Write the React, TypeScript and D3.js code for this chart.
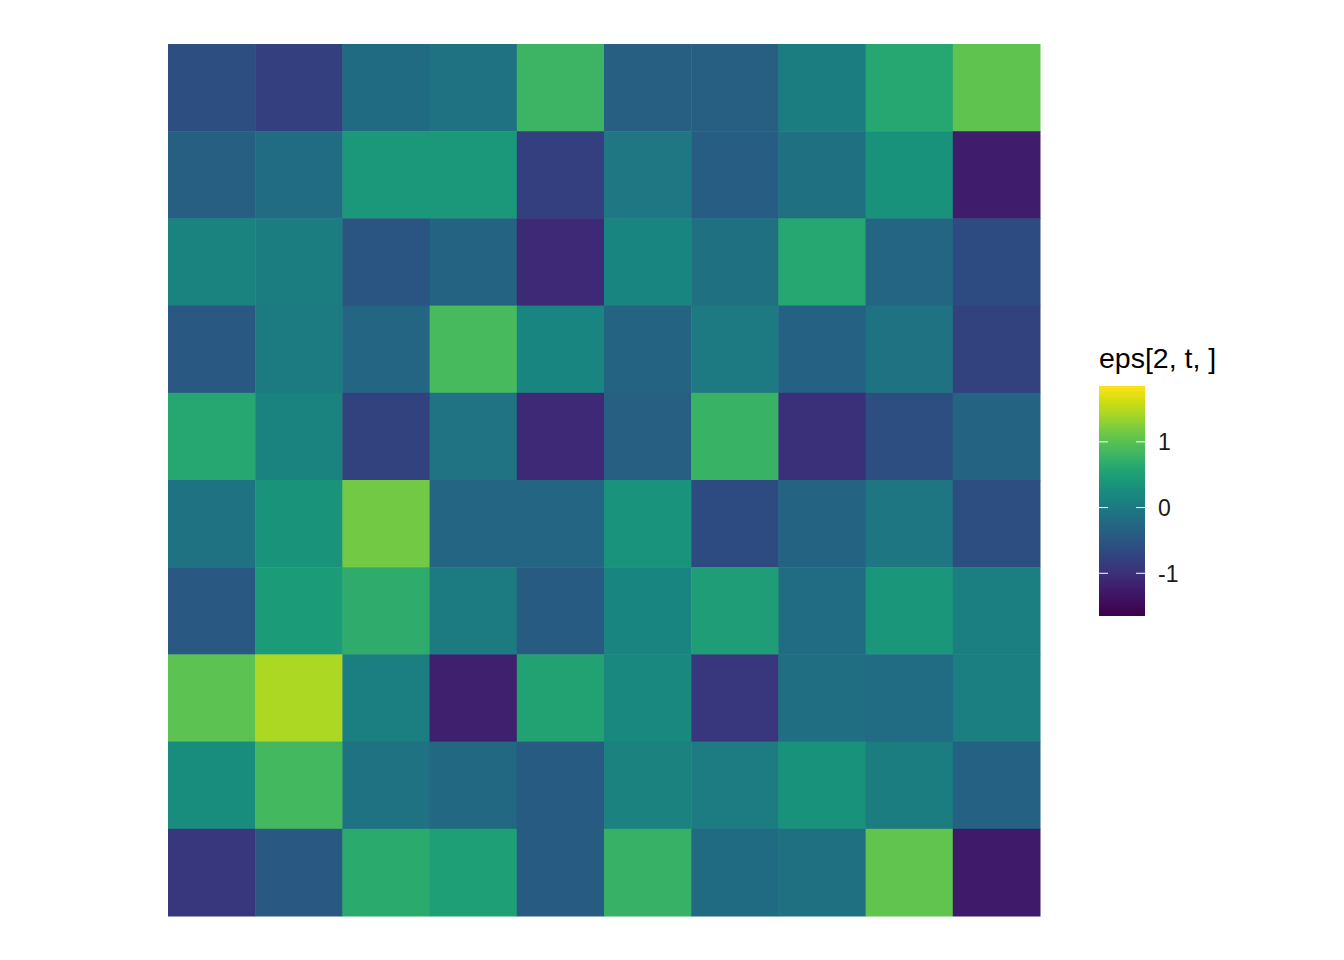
import React, { useEffect, useRef } from 'react';
import * as d3 from 'd3';

// rows listed top to bottom, columns left to right
const rows = ['r1', 'r2', 'r3', 'r4', 'r5', 'r6', 'r7', 'r8', 'r9', 'r10'];
const cols = ['c1', 'c2', 'c3', 'c4', 'c5', 'c6', 'c7', 'c8', 'c9', 'c10'];

const row1 = [-0.6, -0.79, -0.2, -0.11, 0.8, -0.37, -0.37, 0.05, 0.6, 1.04];
const row2 = [-0.37, -0.18, 0.42, 0.42, -0.79, -0.03, -0.4, -0.13, 0.33, -1.25];
const row3 = [0.13, 0.05, -0.52, -0.3, -1.08, 0.16, -0.13, 0.6, -0.27, -0.65];
const row4 = [-0.45, 0.03, -0.27, 0.88, 0.16, -0.29, 0.0, -0.33, -0.11, -0.76];
const row5 = [0.6, 0.12, -0.76, -0.09, -1.08, -0.37, 0.78, -1.0, -0.6, -0.3];
const row6 = [-0.11, 0.37, 1.15, -0.27, -0.27, 0.35, -0.65, -0.3, -0.05, -0.6];
const row7 = [-0.47, 0.45, 0.7, 0.03, -0.42, 0.16, 0.48, -0.18, 0.39, 0.06];
const row8 = [1.02, 1.45, 0.08, -1.2, 0.56, 0.2, -0.92, -0.15, -0.18, 0.08];
const row9 = [0.27, 0.86, -0.11, -0.24, -0.42, 0.1, 0.04, 0.33, 0.05, -0.33];
const row10 = [-0.92, -0.45, 0.65, 0.5, -0.42, 0.76, -0.2, -0.13, 1.05, -1.28];

const values = [row1, row2, row3, row4, row5, row6, row7, row8, row9, row10];

const fillLimits = [-1.65, 1.85];
const legendTicks = [-1, 0, 1];
const legendTitle = 'eps[2, t, ]';

// viridis, a little darker in the mid tones like the original render
const palette = (t: number) => {
  const c = d3.rgb(d3.interpolateViridis(t));
  const f = (v: number, g: number) => 255 * Math.pow(v / 255, g);
  return d3.rgb(f(c.r, 1.1), f(c.g, 1.2), f(c.b, 1.15)).formatHex();
};

const App = () => {
  const svgRef = useRef<SVGSVGElement>(null);

  useEffect(() => {
    const width = 1344;
    const height = 960;
    const svg = d3.select(svgRef.current)
      .attr('width', width)
      .attr('height', height);
    svg.selectAll('*').remove();

    const x = d3.scaleBand().domain(cols).range([168, 1040]);
    const y = d3.scaleBand().domain(rows).range([44, 916]);
    const color = d3.scaleSequential(palette).domain(fillLimits);

    const cells = values.flatMap((r, i) => r.map((v, j) => ({ row: rows[i], col: cols[j], v })));

    svg.append('g')
      .selectAll('rect')
      .data(cells)
      .enter()
      .append('rect')
      .attr('x', d => x(d.col)!)
      .attr('y', d => y(d.row)!)
      .attr('width', x.bandwidth() + 0.5)
      .attr('height', y.bandwidth() + 0.5)
      .attr('fill', d => color(d.v));

    // legend colorbar
    const barX = 1099;
    const barW = 46;
    const ly = d3.scaleLinear().domain(fillLimits).range([616, 386]);

    const defs = svg.append('defs');
    const grad = defs.append('linearGradient')
      .attr('id', 'bar-grad')
      .attr('x1', 0).attr('y1', 1).attr('x2', 0).attr('y2', 0);
    d3.range(0, 1.0001, 0.02).forEach(t => {
      grad.append('stop')
        .attr('offset', t)
        .attr('stop-color', palette(t));
    });

    svg.append('rect')
      .attr('x', barX)
      .attr('y', ly(fillLimits[1]))
      .attr('width', barW)
      .attr('height', ly(fillLimits[0]) - ly(fillLimits[1]))
      .attr('fill', 'url(#bar-grad)');

    const tickG = svg.append('g');
    legendTicks.forEach(t => {
      tickG.append('line')
        .attr('x1', barX).attr('x2', barX + 9)
        .attr('y1', ly(t)).attr('y2', ly(t))
        .attr('stroke', 'white').attr('stroke-width', 1);
      tickG.append('line')
        .attr('x1', barX + barW - 9).attr('x2', barX + barW)
        .attr('y1', ly(t)).attr('y2', ly(t))
        .attr('stroke', 'white').attr('stroke-width', 1);
      tickG.append('text')
        .attr('x', barX + barW + 13)
        .attr('y', ly(t))
        .attr('dy', '0.36em')
        .attr('font-family', 'Liberation Sans, Arial, sans-serif')
        .attr('font-size', 23)
        .attr('fill', '#1a1a1a')
        .text(d3.format('d')(t).replace('−', '-'));
    });

    svg.append('text')
      .attr('x', barX)
      .attr('y', 368)
      .attr('font-family', 'Liberation Sans, Arial, sans-serif')
      .attr('font-size', 28.5)
      .attr('fill', 'black')
      .text(legendTitle);
  }, []);

  return <svg ref={svgRef} style={{ display: 'block', position: 'absolute', left: 0, top: 0 }} />;
};

export default App;
